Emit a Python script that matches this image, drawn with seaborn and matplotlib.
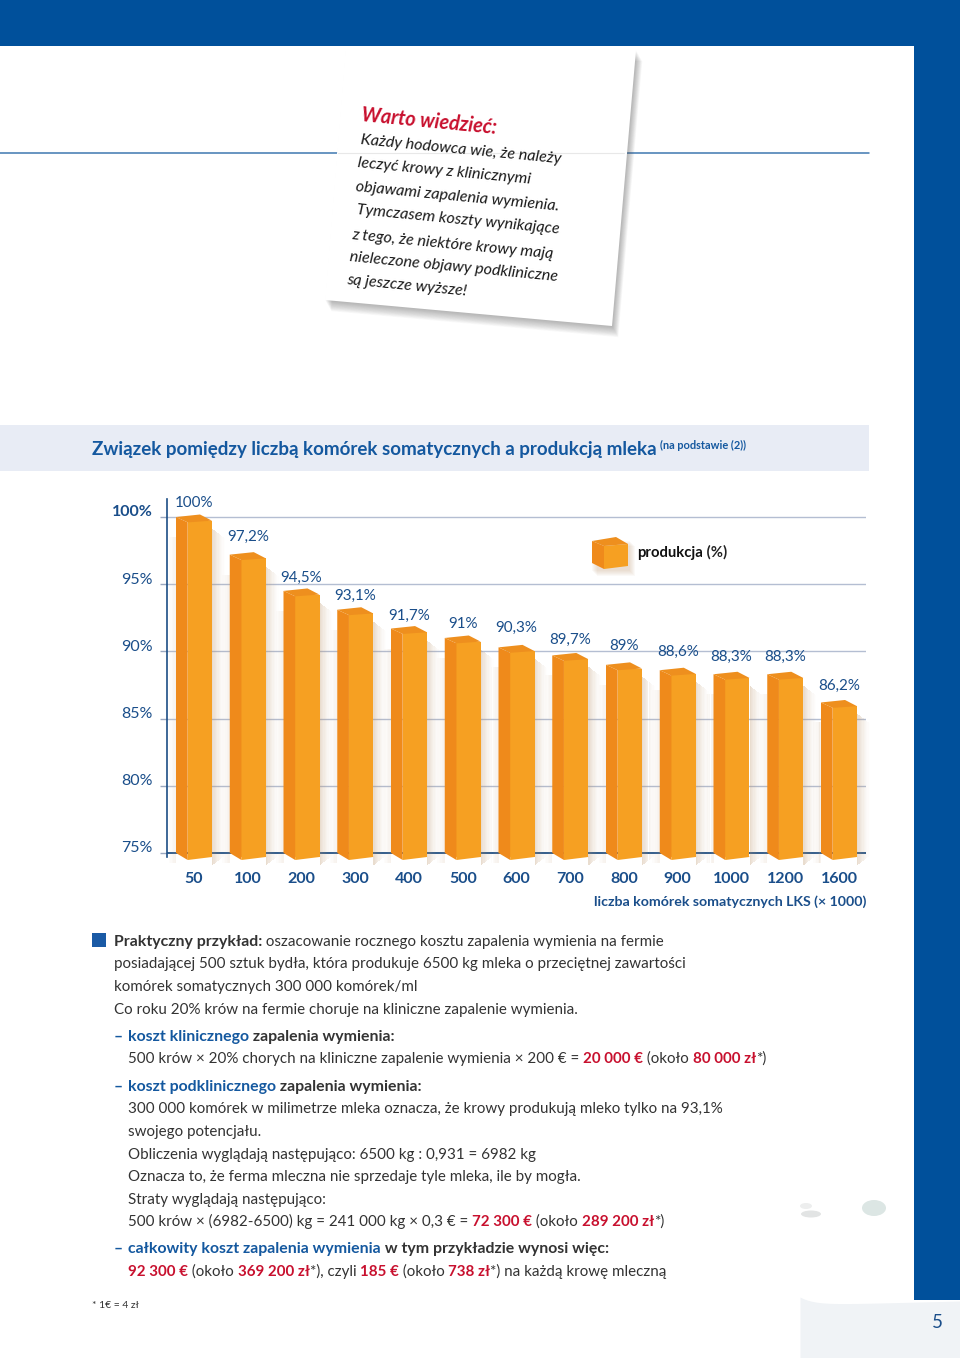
import numpy as np
import matplotlib
matplotlib.use("Agg")
import matplotlib.pyplot as plt
import seaborn as sns
from matplotlib.patches import Polygon, Rectangle, Ellipse
from matplotlib.transforms import ScaledTranslation

# === Data ===
lks_labels = ["50", "100", "200", "300", "400", "500", "600", "700", "800", "900", "1000", "1200", "1600"]
produkcja = [100, 97.2, 94.5, 93.1, 91.7, 91, 90.3, 89.7, 89, 88.6, 88.3, 88.3, 86.2]
y_ticks = [75, 80, 85, 90, 95, 100]
label_lift_px = [14, 18, 13, 14, 13, 14, 19, 16, 19, 18, 17, 17, 17]

note_lines = [
    "Każdy hodowca wie, że należy",
    "leczyć krowy z klinicznymi",
    "objawami zapalenia wymienia.",
    "Tymczasem koszty wynikające",
    "z tego, że niektóre krowy mają",
    "nieleczone objawy podkliniczne",
    "są jeszcze wyższe!",
]

# === Colours ===
BLUE = "#00509B"
TXT_BLUE = "#1A4E8A"
HEAD_BLUE = "#14589F"
RED = "#C8102E"
DARK = "#333333"
FRONT = "#F6A022"
SIDE = "#EF8A1B"

W, H = 960, 1358
sns.set_theme(style="white")
FONT = ["Lato", "Open Sans", "DejaVu Sans"]
plt.rcParams["font.family"] = FONT

fig = plt.figure(figsize=(W / 100, H / 100), dpi=100, facecolor="white")

# page layer in pixel coordinates
page = fig.add_axes([0, 0, 1, 1], zorder=0)
page.set_xlim(0, W)
page.set_ylim(H, 0)
page.axis("off")
renderer = fig.canvas.get_renderer()


def text_w(s, **kw):
    # measure with guards so that edge spaces are counted
    a = page.text(0, 0, "x" + s + "x", **kw)
    b = page.text(0, 0, "xx", **kw)
    w = a.get_window_extent(renderer).width - b.get_window_extent(renderer).width
    a.remove()
    b.remove()
    return w


def rich(x, y, parts, size=10.88):
    for s, color, weight in parts:
        # Lato bold headings run narrower than the original face
        fs = size * 1.05 if weight == "bold" and color != RED else size
        kw = dict(fontsize=fs, color=color, fontweight=weight)
        page.text(x, y + 5, s, va="baseline", ha="left", **kw)
        x += text_w(s, **kw)


# --- page background ---
page.add_patch(Rectangle((0, 0), W, 46, facecolor=BLUE, lw=0, zorder=5))
page.add_patch(Rectangle((914, 0), 46, 1300, facecolor=BLUE, lw=0, zorder=5))
xs = np.linspace(800, 960, 60)
page.fill_between(xs, 1297 + 8 * (1 - np.exp(-(xs - 800) / 14)) - (xs - 800) * 0.025, H,
                  color="#F0F3F6", lw=0, zorder=1)
page.add_patch(Ellipse((874, 1208), 24, 16, color="#DCE6E4", lw=0))
page.add_patch(Ellipse((811, 1214), 20, 7, color="#E2E4E4", lw=0))
page.add_patch(Ellipse((806, 1206), 12, 6, color="#EDEEEE", lw=0))
page.text(937, 1322, "5", fontsize=13.5, color=TXT_BLUE, ha="center", va="center")

page.plot([0, 869], [153, 153], color="#3F78B0", lw=1.1, zorder=1)

# --- note ---
note = [(346, 44), (636, 50), (612, 326), (325, 300)]
for k in range(14, 0, -1):
    shadow = [(px + k * 0.45, py + k * 0.8) for px, py in note]
    page.add_patch(Polygon(shadow, facecolor="#555555", alpha=0.036, lw=0, zorder=2))
page.add_patch(Polygon(note, facecolor="white", lw=0, zorder=3))
page.plot([338, 624], [153, 153], color="#E8E8E8", lw=0.8, zorder=3)
page.text(362, 115, "Warto wiedzieć:", fontsize=14.3, fontweight="bold", fontstyle="italic", color=RED,
          rotation=-5.5, rotation_mode="anchor", va="center", ha="left", zorder=4)
note_pos = [(361, 140), (358, 163), (356, 187), (357, 210), (352, 235), (350, 257), (347, 280)]
for (nx, ny), line in zip(note_pos, note_lines):
    page.text(nx, ny, line, fontsize=11.6, fontstyle="italic", color="#1A1A1A",
              rotation=-5.5, rotation_mode="anchor", va="center", ha="left", zorder=4)

# --- title band ---
page.add_patch(Rectangle((0, 425), 869, 46, facecolor="#E8ECF5", lw=0))
page.text(92, 450, "Związek pomiędzy liczbą komórek somatycznych a produkcją mleka",
          fontsize=13.5, fontweight="bold", color=HEAD_BLUE, va="center")
page.text(660, 445, "(na podstawie (2))", fontsize=7.9, fontweight="bold", color=HEAD_BLUE, va="center")

# === Chart ===
PX_X = 53.75   # pixels between bars
PX_Y = 13.44   # pixels per percent
ax_l, ax_r, ax_t, ax_b = 166.7, 866, 499, 857
ax = fig.add_axes([ax_l / W, 1 - ax_b / H, (ax_r - ax_l) / W, (ax_b - ax_t) / H], zorder=1)
ax.patch.set_alpha(0)

front_w = 24.3 / PX_X
side_w = 11.7 / PX_X
sns.barplot(x=lks_labels, y=produkcja, color=FRONT, saturation=1, width=front_w, ax=ax, zorder=3, linewidth=0)

ax.set_xlim((ax_l - 194) / PX_X, (ax_r - 194) / PX_X)
ax.set_ylim(75 - (ax_b - 853) / PX_Y, 100 + (517 - ax_t) / PX_Y)
ax.set_xlabel("")
ax.set_ylabel("")

for y in y_ticks[1:]:
    ax.axhline(y, color="#B4BED2", lw=1, zorder=0.5)
ax.axhline(75, color="#1C4E85", lw=1.3, zorder=0.5)

dy = lambda px: px / PX_Y
dx = lambda px: px / PX_X
for i, (p, v) in enumerate(zip(ax.patches, produkcja)):
    # whole bar is centred on its category, front face sits right of the side face
    left = i - 18 / PX_X
    x0 = left + side_w
    x1 = x0 + front_w
    p.set_x(x0)
    p.set_height(v - dy(3.7))
    base = 75
    # soft shadow right of the bar
    for k in range(10):
        ax.add_patch(Rectangle((x1 + dx(k * 1.3), base - dy(12 - k)), dx(1.3), v - base + dy(12 - k) - dy(12 + k),
                               facecolor="#B98F63", alpha=0.30 * (1 - k / 10) ** 1.5, lw=0, zorder=1, clip_on=False))
    for k in range(5):
        ax.add_patch(Rectangle((left - dx((k + 1) * 1.5), base - dy(10)), dx(1.5), v - base + dy(10) - dy(20),
                               facecolor="#C9A583", alpha=0.14 * (1 - k / 5), lw=0, zorder=1, clip_on=False))
    # side, top and lower edge of the block
    ax.add_patch(Polygon([(left, v), (x0, v - dy(5.4)), (x0, base - dy(7)), (left, base)],
                         facecolor=SIDE, lw=0, zorder=4, clip_on=False))
    ax.add_patch(Polygon([(left, v), (x0, v - dy(5.4)), (x1, v - dy(3.7)), (left + dx(24), v + dy(2.5))],
                         facecolor="#EE8F1E", lw=0, zorder=4, clip_on=False))
    ax.add_patch(Polygon([(x0, base - dy(3.5)), (x1, base - dy(3.5)), (x1, base - dy(4)), (x0, base - dy(7))],
                         facecolor=FRONT, lw=0, zorder=4, clip_on=False))
    ax.text(i, v + dy(label_lift_px[i]), f"{v:g}%".replace(".", ","), fontsize=10.9, color=TXT_BLUE,
            ha="center", va="center", zorder=6)

sns.despine(ax=ax, top=True, right=True, bottom=True)
ax.spines["left"].set_color("#1C4E85")
ax.spines["left"].set_linewidth(1.2)
ax.set_yticks(y_ticks)
ax.set_yticklabels([f"{t}%" for t in y_ticks], fontsize=11.5, color=TXT_BLUE)
ax.tick_params(axis="y", left=True, length=5, width=1, color="#9AA8C0", pad=5)
ax.tick_params(axis="x", bottom=False, length=0, pad=11)
shift = ScaledTranslation(0, 6 / 100, fig.dpi_scale_trans)
for lab in ax.get_yticklabels():
    lab.set_transform(lab.get_transform() + shift)
    if lab.get_text() == "100%":
        lab.set_fontweight("bold")
for lab in ax.get_xticklabels():
    lab.set_fontsize(11.5)
    lab.set_fontweight("bold")
    lab.set_color(TXT_BLUE)

page.text(866, 902, "liczba komórek somatycznych LKS (× 1000)", fontsize=10.2, fontweight="bold",
          color=TXT_BLUE, ha="right", va="center")

# legend swatch
for k in range(6):
    page.add_patch(Rectangle((592 + k, 541 + k), 38, 30, facecolor="#B98F63", alpha=0.05, lw=0))
page.add_patch(Polygon([(592, 541), (604, 546), (604, 569), (592, 563)], facecolor=SIDE, lw=0, zorder=2))
page.add_patch(Polygon([(604, 546), (628, 544), (628, 566), (604, 569)], facecolor=FRONT, lw=0, zorder=2))
page.add_patch(Polygon([(592, 541), (604, 546), (628, 544), (616, 537)], facecolor="#EE8F1E", lw=0, zorder=2))
rich(637, 552, [("produkcja", "#111111", "bold"), (" (%)", "#222222", "bold")], size=10.2)

# === Body text ===
page.add_patch(Rectangle((92, 933), 14, 14, facecolor="#1A5AA5", lw=0))
N, B = "normal", "bold"
rich(114, 941, [("Praktyczny przykład:", DARK, B), (" oszacowanie rocznego kosztu zapalenia wymienia na fermie", DARK, N)])
rich(114, 963, [("posiadającej 500 sztuk bydła, która produkuje 6500 kg mleka o przeciętnej zawartości", DARK, N)])
rich(114, 986, [("komórek somatycznych 300 000 komórek/ml", DARK, N)])
rich(114, 1009, [("Co roku 20% krów na fermie choruje na kliniczne zapalenie wymienia.", DARK, N)])

rich(114, 1036, [("–", HEAD_BLUE, B)])
rich(128, 1036, [("koszt klinicznego", HEAD_BLUE, B), (" zapalenia wymienia:", DARK, B)])
rich(128, 1058, [("500 krów × 20% chorych na kliniczne zapalenie wymienia × 200 € = ", DARK, N), ("20 000 €", RED, B),
                 (" (około ", DARK, N), ("80 000 zł", RED, B), ("*)", DARK, N)])
rich(114, 1086, [("–", HEAD_BLUE, B)])
rich(128, 1086, [("koszt podklinicznego", HEAD_BLUE, B), (" zapalenia wymienia:", DARK, B)])
rich(128, 1108, [("300 000 komórek w milimetrze mleka oznacza, że krowy produkują mleko tylko na 93,1%", DARK, N)])
rich(128, 1131, [("swojego potencjału.", DARK, N)])
rich(128, 1154, [("Obliczenia wyglądają następująco: 6500 kg : 0,931 = 6982 kg", DARK, N)])
rich(128, 1176, [("Oznacza to, że ferma mleczna nie sprzedaje tyle mleka, ile by mogła.", DARK, N)])
rich(128, 1199, [("Straty wyglądają następująco:", DARK, N)])
rich(128, 1221, [("500 krów × (6982-6500) kg = 241 000 kg × 0,3 € = ", DARK, N), ("72 300 €", RED, B),
                 (" (około ", DARK, N), ("289 200 zł", RED, B), ("*)", DARK, N)])
rich(114, 1248, [("–", HEAD_BLUE, B)])
rich(128, 1248, [("całkowity koszt zapalenia wymienia", HEAD_BLUE, B), (" w tym przykładzie wynosi więc:", DARK, B)])
rich(128, 1271, [("92 300 €", RED, B), (" (około ", DARK, N), ("369 200 zł", RED, B), ("*), czyli ", DARK, N), ("185 €", RED, B),
                 (" (około ", DARK, N), ("738 zł", RED, B), ("*) na każdą krowę mleczną", DARK, N)])
page.text(92, 1305, "* 1€ = 4 zł", fontsize=7.5, color=DARK, va="center")

fig.savefig("out.png", dpi=100)
